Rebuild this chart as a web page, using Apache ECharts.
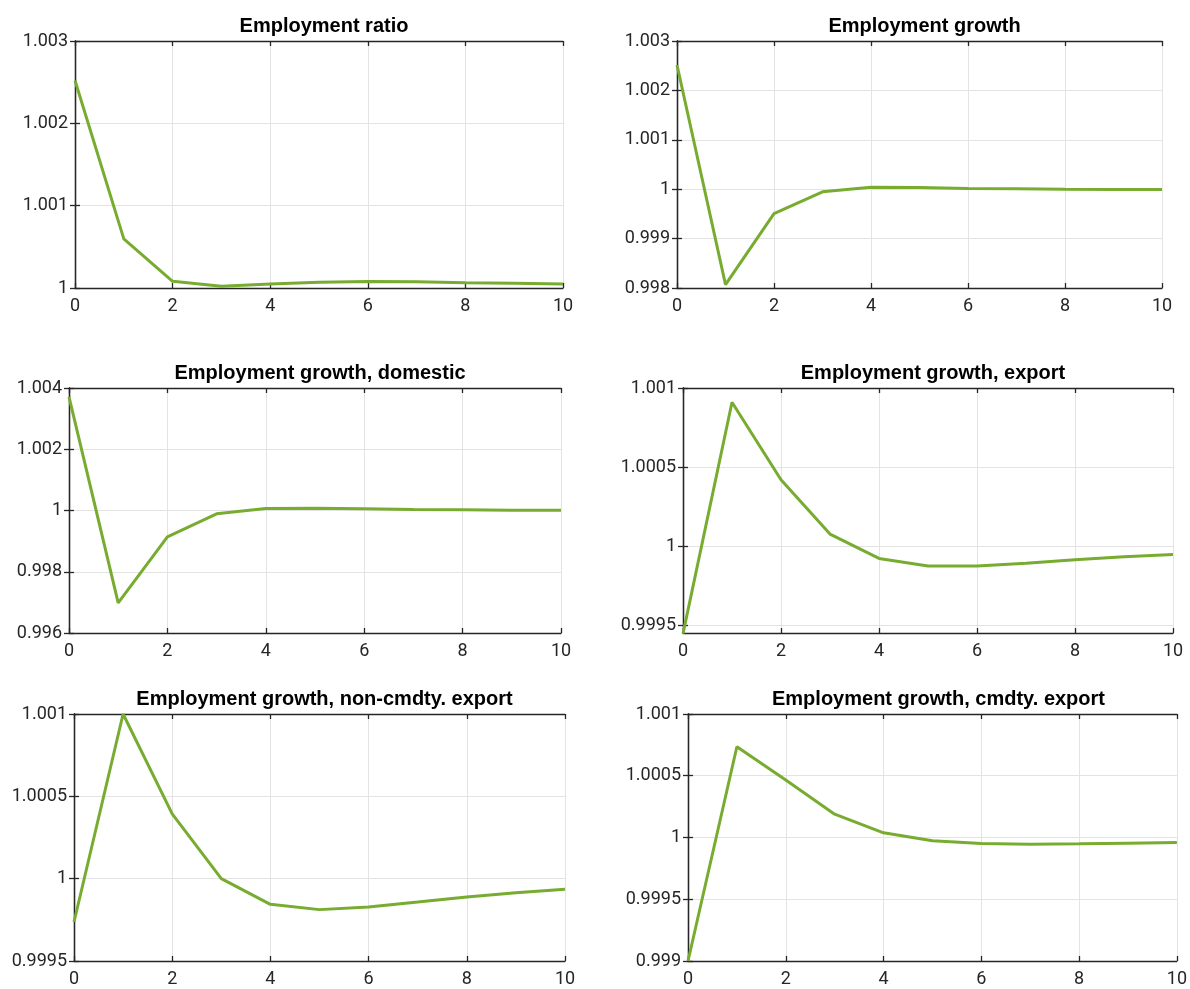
<!DOCTYPE html>
<html>
<head>
<meta charset="utf-8">
<script src="https://cdn.jsdelivr.net/npm/echarts@6/dist/echarts.min.js"></script>
<style>
	html, body { margin: 0; padding: 0; background: #fff; }
	#irf { width: 1190px; height: 989px; }
</style>
</head>
<body>
<div id="irf"></div>
<script>
// horizons 0..10
const steps = [0, 1, 2, 3, 4, 5, 6, 7, 8, 9, 10];

const empRatio = [1.00252, 1.000596, 1.000081, 1.00002, 1.000049, 1.00007, 1.00008, 1.000077, 1.000065, 1.000057, 1.000049];
const empGrowth = [1.002514, 0.998068, 0.999507, 0.999946, 1.00004, 1.000034, 1.000014, 1.000007, 0.999997, 0.999993, 0.999993];
const empDomestic = [1.003713, 0.996982, 0.999142, 0.999891, 1.000065, 1.000076, 1.000054, 1.000033, 1.000022, 1.000011, 1.00001];
const empExport = [0.999446, 1.00091, 1.00042, 1.000076, 0.999922, 0.999874, 0.999874, 0.999891, 0.999914, 0.999933, 0.999947];
const empNonCmdty = [0.999737, 1.001, 1.000393, 1.0, 0.999844, 0.999812, 0.999828, 0.999858, 0.999889, 0.999915, 0.999935];
const empCmdty = [0.999, 1.000735, 1.000465, 1.000189, 1.000038, 0.999973, 0.999951, 0.999946, 0.999949, 0.999954, 0.999959];

const titles = [
	'Employment ratio', 'Employment growth',
	'Employment growth, domestic', 'Employment growth, export',
	'Employment growth, non-cmdty. export', 'Employment growth, cmdty. export'
];
const seriesList = [empRatio, empGrowth, empDomestic, empExport, empNonCmdty, empCmdty];

// y tick labels per panel
const yTicks = [
	[1, 1.001, 1.002, 1.003],
	[0.998, 0.999, 1, 1.001, 1.002, 1.003],
	[0.996, 0.998, 1, 1.002, 1.004],
	[0.9995, 1, 1.0005, 1.001],
	[0.9995, 1, 1.0005, 1.001],
	[0.999, 0.9995, 1, 1.0005, 1.001]
];
const yMin = [1, 0.998, 0.996, 0.99945, 0.9995, 0.999];
const yMax = [1.003, 1.003, 1.004, 1.001, 1.001, 1.001];

// plot boxes [left, top, right, bottom] in px
const boxes = [
	[75, 41, 563, 288], [677, 41, 1162, 288],
	[69, 388, 561, 633], [683, 388, 1173, 633],
	[74, 714, 565, 961], [688, 714, 1179, 961]
];

const axisColor = '#262626';
const gridColor = '#e3e3e3';
const fontFam = 'Roboto, "Liberation Sans", Arial, sans-serif';

const fmt = v => String(+(+v).toFixed(5));

let chart = echarts.init(document.getElementById('irf'));

let grids = [], xAxes = [], yAxes = [], series = [], titleList = [];

boxes.forEach((b, i) => {
	grids.push({ left: b[0], top: b[1], width: b[2] - b[0], height: b[3] - b[1], containLabel: false });
	titleList.push({
		text: titles[i],
		left: (b[0] + b[2]) / 2,
		top: b[1] - 30,
		textAlign: 'center',
		textStyle: { fontFamily: 'Arial, "Liberation Sans", sans-serif', fontWeight: 'bold', fontSize: 20, color: '#000' }
	});

	let tickSet = yTicks[i];
	let axLine = { show: true, lineStyle: { color: axisColor, width: 1.3 } };
	let tick = { show: true, inside: true, length: 5, lineStyle: { color: axisColor, width: 1.3 } };

	// bottom x axis
	xAxes.push({
		gridIndex: i, type: 'value', min: 0, max: 10, interval: 2, position: 'bottom',
		axisLine: axLine, axisTick: tick,
		axisLabel: { color: axisColor, fontSize: 18, fontFamily: fontFam, margin: 9 },
		splitLine: { show: true, lineStyle: { color: gridColor, width: 1 } }
	});
	// top mirror
	xAxes.push({
		gridIndex: i, type: 'value', min: 0, max: 10, interval: 2, position: 'top',
		axisLine: axLine, axisTick: tick, axisLabel: { show: false }, splitLine: { show: false }
	});
	// left y axis
	yAxes.push({
		gridIndex: i, type: 'value', min: yMin[i], max: yMax[i], position: 'left',
		axisLine: axLine,
		axisTick: Object.assign({ customValues: tickSet }, tick),
		axisLabel: { customValues: tickSet, formatter: fmt, color: axisColor, fontSize: 18, fontFamily: fontFam, margin: 7 },
		splitLine: { show: true, lineStyle: { color: gridColor, width: 1 } }
	});
	// right mirror
	yAxes.push({
		gridIndex: i, type: 'value', min: yMin[i], max: yMax[i], position: 'right',
		axisLine: axLine,
		axisTick: Object.assign({ customValues: tickSet }, tick),
		axisLabel: { show: false, customValues: tickSet }, splitLine: { show: false }
	});

	series.push({
		type: 'line',
		xAxisIndex: i * 2,
		yAxisIndex: i * 2,
		data: steps.map((s, k) => [s, seriesList[i][k]]),
		symbol: 'none',
		lineStyle: { color: '#77AC30', width: 3 },
		animation: false
	});
});

chart.setOption({
	backgroundColor: '#fff',
	animation: false,
	title: titleList,
	grid: grids,
	xAxis: xAxes,
	yAxis: yAxes,
	series: series
});
</script>
</body>
</html>
